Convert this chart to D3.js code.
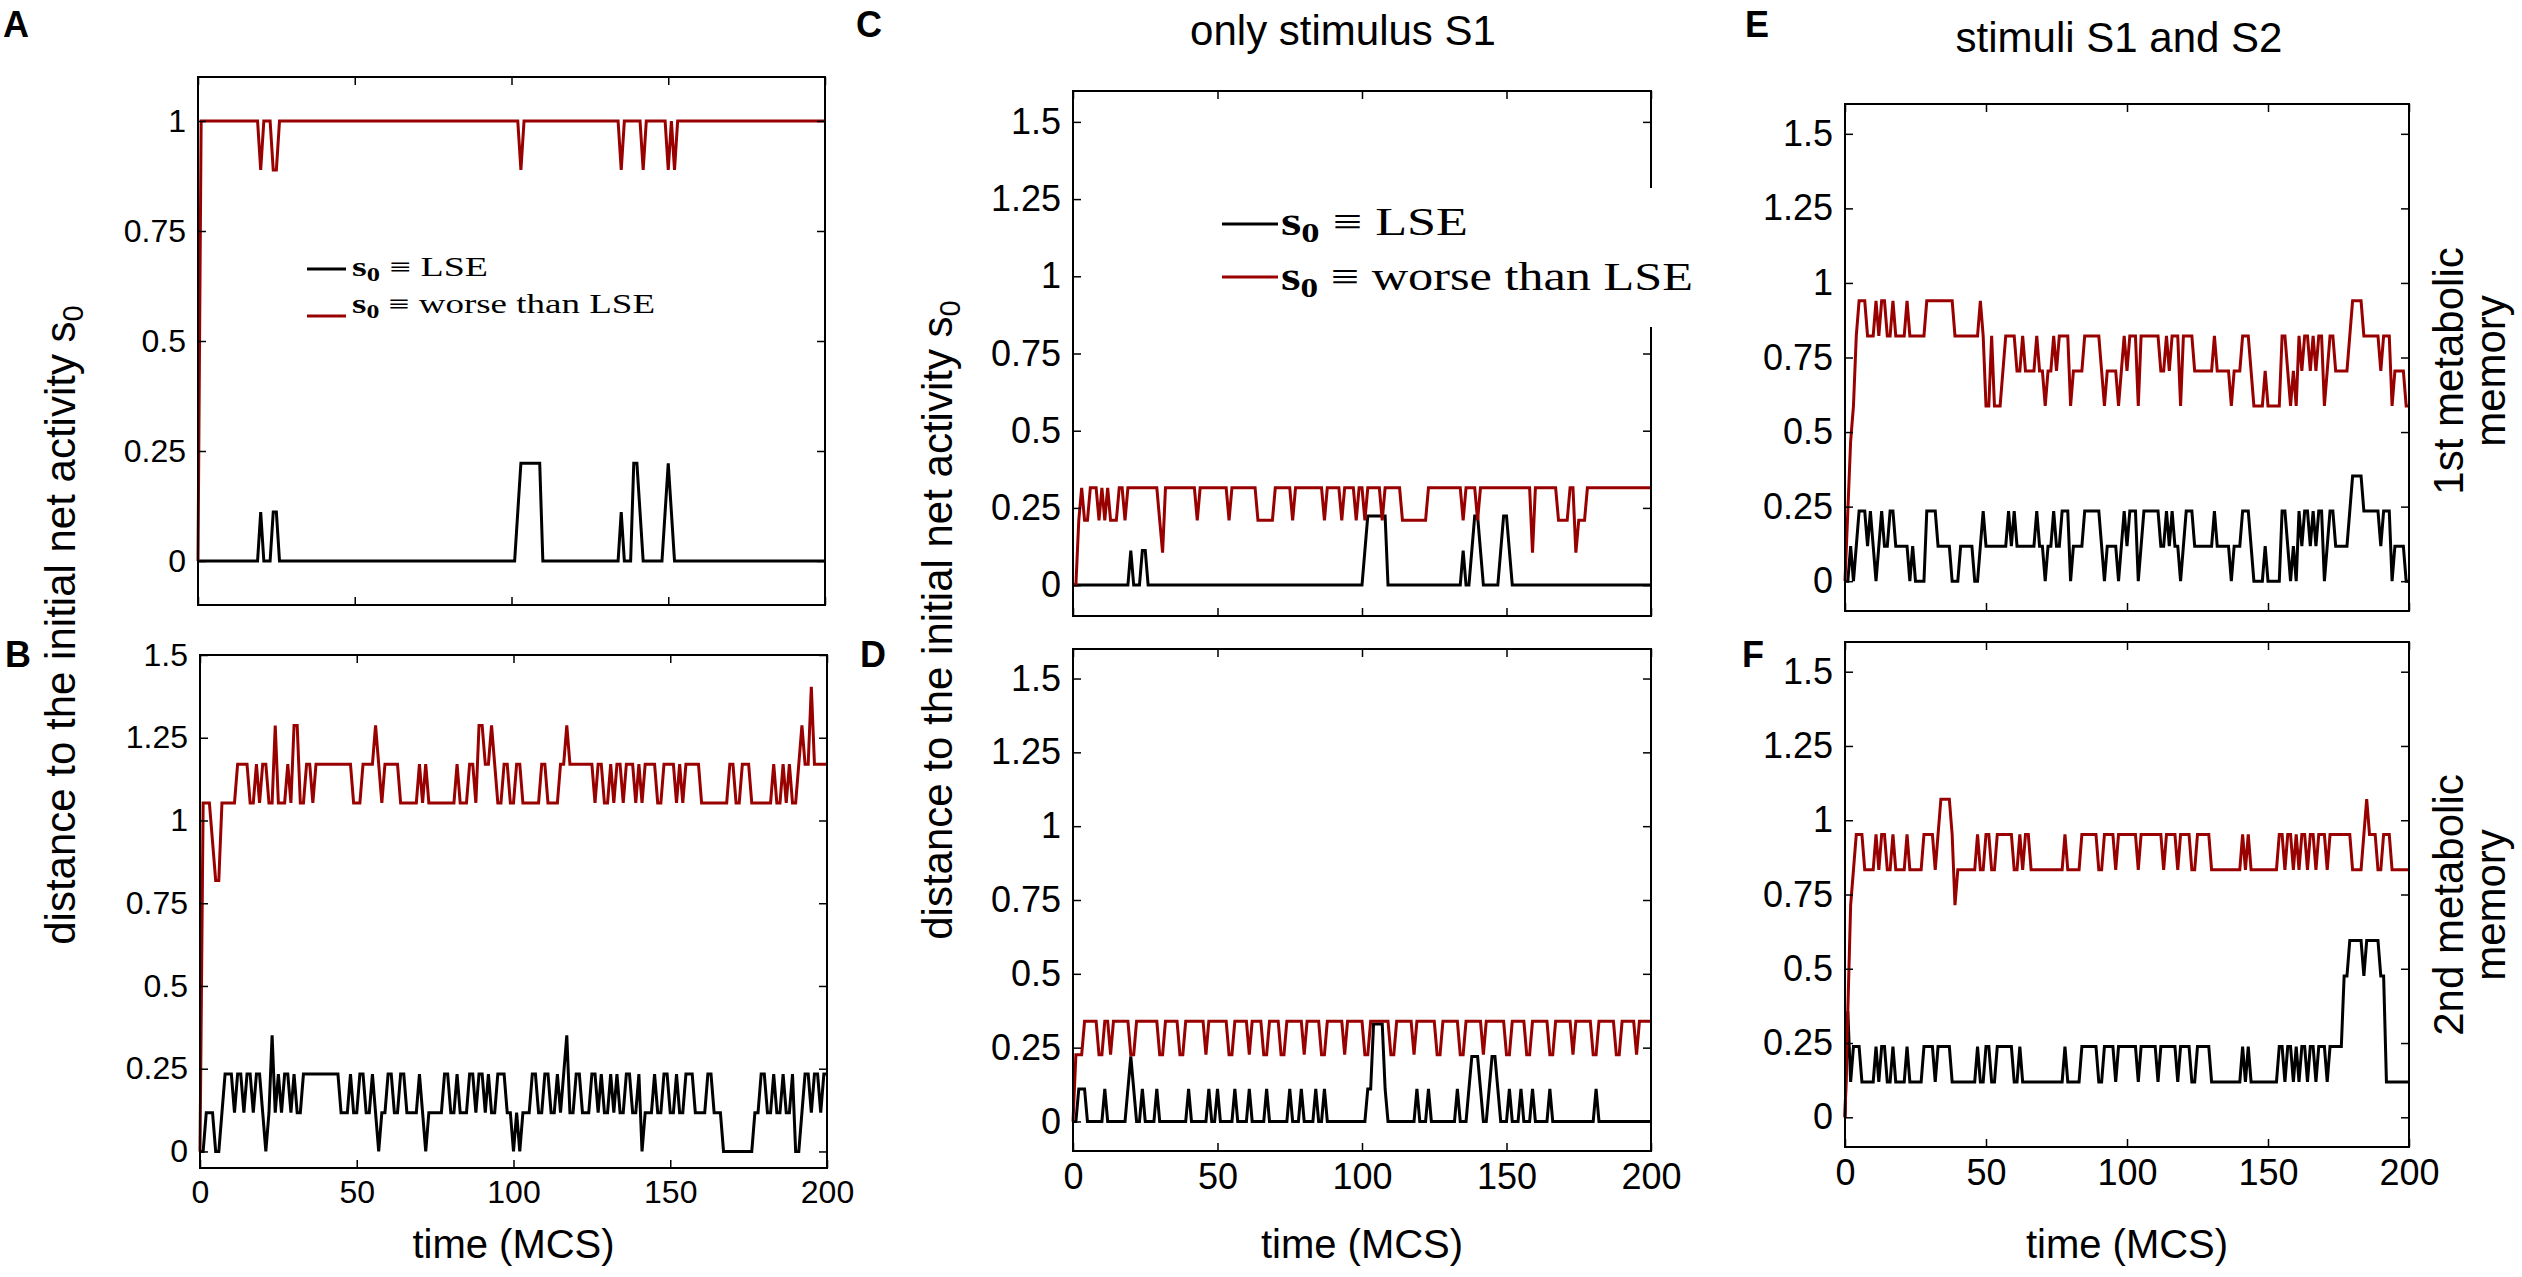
<!DOCTYPE html>
<html>
<head>
<meta charset="utf-8">
<script src="https://cdn.jsdelivr.net/npm/d3@7"></script>
<style>
  body { margin: 0; background: #fff; }
  text { fill: #000; }
</style>
</head>
<body>
<svg id="fig" width="2522" height="1277" font-family="Liberation Sans, Arial, sans-serif"></svg>
<script>
// ---- data: each series is a list of [time (MCS), level] changes; level * unit = distance
const xTicks = [0, 50, 100, 150, 200]
const yTicksA = [0, 0.25, 0.5, 0.75, 1]
const yTicks = [0, 0.25, 0.5, 0.75, 1, 1.25, 1.5]

const unitA = 1 / 9
const aBlack = [[0,0],[20,1],[21,0],[24,1],[26,0],[102,1],[103,2],[110,0],[135,1],[136,0],[139,2],[141,1],[142,0],[149,1],[150,2],[151,1],[152,0]]
const aRed = [[0,0],[1,9],[20,8],[21,9],[24,8],[26,9],[103,8],[104,9],[135,8],[136,9],[142,8],[143,9],[150,8],[151,9],[152,8],[153,9]]

const unitB = 0.117
const bBlack = [[0,0],[2,1],[5,0],[7,1],[8,2],[11,1],[12,2],[14,1],[15,2],[17,1],[18,2],[20,1],[21,0],[22,1],[23,3],[24,1],[25,2],[26,1],[27,2],[29,1],[30,2],[31,1],[33,2],[45,1],[48,2],[49,1],[51,2],[53,1],[55,2],[56,1],[57,0],[58,1],[60,2],[62,1],[64,2],[66,1],[70,2],[71,1],[72,0],[73,1],[78,2],[80,1],[82,2],[83,1],[86,2],[88,1],[89,2],[91,1],[92,2],[93,1],[95,2],[98,1],[100,0],[101,1],[102,0],[103,1],[106,2],[108,1],[110,2],[112,1],[114,2],[115,1],[116,2],[117,3],[118,1],[120,2],[122,1],[125,2],[127,1],[128,2],[129,1],[131,2],[132,1],[133,2],[134,1],[136,2],[138,1],[140,2],[141,0],[142,1],[145,2],[146,1],[148,2],[150,1],[152,2],[153,1],[155,2],[158,1],[162,2],[164,1],[167,0],[177,1],[179,2],[181,1],[183,2],[184,1],[186,2],[187,1],[189,2],[190,0],[192,1],[193,2],[195,1],[196,2],[198,1],[199,2]]
const bRed = [[0,0],[1,9],[4,8],[5,7],[7,9],[12,10],[16,9],[18,10],[19,9],[20,10],[22,9],[24,11],[25,9],[28,10],[29,9],[30,11],[32,9],[34,10],[36,9],[37,10],[49,9],[52,10],[56,11],[57,10],[58,9],[59,10],[64,9],[70,10],[71,9],[72,10],[73,9],[82,10],[83,9],[86,10],[88,9],[89,11],[91,10],[93,11],[94,10],[95,9],[97,10],[99,9],[101,10],[103,9],[109,10],[111,9],[115,10],[117,11],[118,10],[126,9],[127,10],[129,9],[131,10],[132,9],[133,10],[135,9],[136,10],[139,9],[140,10],[141,9],[142,10],[146,9],[148,10],[152,9],[153,10],[154,9],[155,10],[160,9],[169,10],[171,9],[173,10],[176,9],[183,10],[184,9],[186,10],[187,9],[188,10],[189,9],[191,10],[192,11],[193,10],[195,12],[196,10]]

const unitCb = 0.112
const unitCr = 0.105
const cBlack = [[0,0],[20,1],[21,0],[24,1],[26,0],[101,1],[102,2],[109,0],[135,1],[136,0],[138,1],[139,2],[141,1],[142,0],[148,1],[149,2],[151,1],[152,0]]
const cRed = [[0,0],[2,2],[3,3],[4,2],[6,3],[9,2],[10,3],[11,2],[12,3],[13,2],[16,3],[18,2],[19,3],[30,2],[31,1],[32,3],[43,2],[44,3],[54,2],[55,3],[64,2],[70,3],[76,2],[77,3],[87,2],[88,3],[93,2],[94,3],[98,2],[99,3],[101,2],[102,3],[107,2],[108,3],[114,2],[123,3],[135,2],[136,3],[140,2],[141,3],[159,1],[160,3],[168,2],[172,3],[174,1],[175,2],[178,3]]

const unitDb = 0.11
const unitDr = 0.113
const dBlack = [[0,0],[2,1],[5,0],[11,1],[12,0],[19,1],[20,2],[21,1],[22,0],[24,1],[25,0],[29,1],[30,0],[40,1],[41,0],[47,1],[48,0],[50,1],[51,0],[56,1],[57,0],[61,1],[62,0],[67,1],[68,0],[75,1],[76,0],[79,1],[80,0],[84,1],[85,0],[87,1],[88,0],[102,1],[104,3],[108,1],[109,0],[119,1],[120,0],[123,1],[124,0],[133,1],[134,0],[137,1],[138,2],[141,1],[142,0],[144,1],[145,2],[147,1],[148,0],[151,1],[152,0],[155,1],[156,0],[159,1],[160,0],[165,1],[166,0],[181,1],[182,0]]
const dRed = [[0,0],[1,2],[4,3],[9,2],[11,3],[13,2],[14,3],[20,2],[22,3],[30,2],[32,3],[37,2],[39,3],[46,2],[47,3],[54,2],[56,3],[61,2],[62,3],[66,2],[68,3],[72,2],[74,3],[80,2],[81,3],[86,2],[88,3],[94,2],[95,3],[101,2],[103,3],[110,2],[112,3],[118,2],[119,3],[126,2],[128,3],[134,2],[136,3],[142,2],[143,3],[150,2],[152,3],[157,2],[159,3],[165,2],[167,3],[173,2],[174,3],[180,2],[182,3],[188,2],[190,3],[195,2],[196,3]]

const unitE = 0.1175
const eBlack = [[0,0],[2,1],[3,0],[4,1],[5,2],[8,1],[9,2],[10,1],[11,0],[12,1],[13,2],[14,1],[16,2],[18,1],[23,0],[24,1],[25,0],[29,2],[33,1],[38,0],[41,1],[46,0],[48,1],[49,2],[50,1],[58,2],[59,1],[60,2],[61,1],[68,2],[69,1],[71,0],[72,1],[74,2],[75,1],[77,2],[80,0],[81,1],[85,2],[91,1],[92,0],[93,1],[97,0],[98,1],[99,2],[100,1],[101,2],[104,0],[105,1],[106,2],[112,1],[114,2],[115,1],[116,2],[117,1],[119,0],[120,1],[121,2],[124,1],[131,2],[132,1],[137,0],[138,1],[141,2],[144,1],[145,0],[149,1],[150,0],[155,2],[157,1],[158,0],[159,1],[160,0],[161,2],[162,1],[163,2],[165,1],[166,2],[167,1],[168,2],[170,0],[171,1],[172,2],[174,1],[179,2],[180,3],[184,2],[190,1],[191,2],[194,0],[195,1],[199,0]]
const eRed = [[0,0],[1,2],[2,4],[3,5],[4,7],[5,8],[8,7],[11,8],[12,7],[13,8],[15,7],[17,8],[18,7],[22,8],[23,7],[29,8],[39,7],[48,8],[49,7],[50,5],[52,7],[53,5],[56,6],[57,7],[61,6],[63,7],[64,6],[68,7],[69,6],[71,5],[72,6],[74,7],[75,6],[76,7],[80,5],[81,6],[85,7],[91,6],[92,5],[93,6],[97,5],[98,6],[99,7],[100,6],[101,7],[104,5],[105,7],[112,6],[114,7],[115,6],[116,7],[119,5],[120,7],[124,6],[131,7],[132,6],[137,5],[138,6],[141,7],[144,6],[145,5],[149,6],[150,5],[155,7],[157,6],[158,5],[159,6],[160,5],[161,7],[162,6],[163,7],[165,6],[166,7],[167,6],[168,7],[170,5],[171,6],[172,7],[174,6],[179,7],[180,8],[184,7],[190,6],[191,7],[194,5],[195,6],[199,5]]

const unitF = 0.119
const fBlack = [[0,0],[1,3],[2,1],[3,2],[6,1],[11,2],[12,1],[13,2],[15,1],[17,2],[18,1],[22,2],[23,1],[28,2],[32,1],[33,2],[38,1],[47,2],[48,1],[50,2],[52,1],[54,2],[60,1],[62,2],[63,1],[78,2],[79,1],[84,2],[90,1],[92,2],[96,1],[97,2],[104,1],[105,2],[111,1],[112,2],[118,1],[119,2],[123,1],[125,2],[130,1],[141,2],[142,1],[143,2],[144,1],[154,2],[156,1],[157,2],[159,1],[160,2],[161,1],[162,2],[164,1],[165,2],[167,1],[168,2],[171,1],[172,2],[175,2],[177,4],[179,5],[184,4],[185,5],[190,4],[192,1]]
const fRed = [[0,0],[1,3],[2,6],[3,7],[4,8],[7,7],[11,8],[12,7],[13,8],[15,7],[17,8],[18,7],[22,8],[23,7],[28,8],[32,7],[33,8],[34,9],[38,8],[39,6],[40,7],[47,8],[48,7],[50,8],[52,7],[54,8],[60,7],[62,8],[63,7],[64,8],[66,7],[78,8],[79,7],[84,8],[90,7],[92,8],[96,7],[97,8],[104,7],[105,8],[113,7],[114,8],[118,7],[119,8],[123,7],[125,8],[130,7],[141,8],[142,7],[143,8],[144,7],[154,8],[156,7],[157,8],[159,7],[160,8],[161,7],[162,8],[164,7],[165,8],[167,7],[168,8],[171,7],[172,8],[180,7],[184,8],[185,9],[186,8],[189,7],[191,8],[194,7]]

// ---- layout
const RED = "#990000"
const SANS = "Liberation Sans, Arial, sans-serif"
const SERIF = "Liberation Serif, Times New Roman, serif"
const panels = [
  { x: [198, 825], y: [605, 77], dom: [-0.1, 1.1], yt: yTicksA, fs: 32, xLab: false, black: [aBlack, unitA], red: [aRed, unitA] },
  { x: [200, 827], y: [1168, 655], dom: [-0.05, 1.5], yt: yTicks, fs: 32, xLab: true, black: [bBlack, unitB], red: [bRed, unitB] },
  { x: [1073, 1651], y: [616, 91], dom: [-0.1, 1.6], yt: yTicks, fs: 36, xLab: false, black: [cBlack, unitCb], red: [cRed, unitCr] },
  { x: [1073, 1651], y: [1151, 649], dom: [-0.1, 1.6], yt: yTicks, fs: 36, xLab: true, black: [dBlack, unitDb], red: [dRed, unitDr] },
  { x: [1845, 2409], y: [611, 104], dom: [-0.1, 1.6], yt: yTicks, fs: 36, xLab: false, black: [eBlack, unitE], red: [eRed, unitE] },
  { x: [1845, 2409], y: [1147, 642], dom: [-0.1, 1.6], yt: yTicks, fs: 36, xLab: true, black: [fBlack, unitF], red: [fRed, unitF] }
]

// expand the change list into one sample per MCS
function expand(runs, unit) {
  let k = 0
  return d3.range(0, 201).map(t => {
    while (k + 1 < runs.length && runs[k + 1][0] <= t) k++
    return { t: t, v: runs[k][1] * unit }
  })
}

const svg = d3.select("#fig")

panels.forEach(p => {
  const x = d3.scaleLinear().domain([0, 200]).range(p.x)
  const y = d3.scaleLinear().domain(p.dom).range(p.y)
  const g = svg.append("g")

  const line = d3.line().x(d => x(d.t)).y(d => y(d.v))
  g.append("path")
    .datum(expand(p.black[0], p.black[1]))
    .attr("d", line)
    .attr("fill", "none")
    .attr("stroke", "#000")
    .attr("stroke-width", 3)
  g.append("path")
    .datum(expand(p.red[0], p.red[1]))
    .attr("d", line)
    .attr("fill", "none")
    .attr("stroke", RED)
    .attr("stroke-width", 3)

  // MATLAB style ticks pointing inward on all four sides
  const style = a => {
    a.attr("font-family", SANS).attr("font-size", p.fs)
    a.select(".domain").remove()
    a.selectAll(".tick line").attr("stroke", "#000").attr("stroke-width", 1.5)
    a.selectAll("text").attr("fill", "#000")
  }
  g.append("g")
    .attr("transform", `translate(0,${p.y[0]})`)
    .call(d3.axisBottom(x).tickValues(xTicks).tickSize(-8).tickPadding(12)
      .tickFormat(p.xLab ? d3.format("d") : ""))
    .call(style)
  g.append("g")
    .attr("transform", `translate(0,${p.y[1]})`)
    .call(d3.axisTop(x).tickValues(xTicks).tickSize(-8).tickFormat(""))
    .call(style)
  g.append("g")
    .attr("transform", `translate(${p.x[0]},0)`)
    .call(d3.axisLeft(y).tickValues(p.yt).tickSize(-8).tickPadding(12).tickFormat(d => String(d)))
    .call(style)
  g.append("g")
    .attr("transform", `translate(${p.x[1]},0)`)
    .call(d3.axisRight(y).tickValues(p.yt).tickSize(-8).tickFormat(""))
    .call(style)

  g.append("rect")
    .attr("x", p.x[0]).attr("y", p.y[1])
    .attr("width", p.x[1] - p.x[0]).attr("height", p.y[0] - p.y[1])
    .attr("fill", "none").attr("stroke", "#000").attr("stroke-width", 2)

  if (p.xLab) {
    svg.append("text")
      .attr("x", (p.x[0] + p.x[1]) / 2).attr("y", 1258)
      .attr("text-anchor", "middle").attr("font-size", 40)
      .text("time (MCS)")
  }
})

// ---- legends
function legend(x, y1, y2, lx, ly1, ly2, fs, len1, len2) {
  const g = svg.append("g").attr("font-family", SERIF)
  const rows = [["LSE", y1, ly1, "#000", len1], ["worse than LSE", y2, ly2, RED, len2]]
  rows.forEach(([label, ty, lineY, colour, len]) => {
    g.append("line")
      .attr("x1", lx[0]).attr("x2", lx[1]).attr("y1", lineY).attr("y2", lineY)
      .attr("stroke", colour).attr("stroke-width", 3)
    const t = g.append("text")
      .attr("x", x).attr("y", ty)
      .style("font-family", SERIF)
      .attr("font-size", fs)
      .attr("textLength", len).attr("lengthAdjust", "spacingAndGlyphs")
    t.append("tspan").attr("font-weight", "bold").text("s")
    t.append("tspan").attr("font-weight", "bold").attr("font-size", fs * 0.7).attr("dy", fs * 0.18).text("0")
    t.append("tspan").attr("dy", -fs * 0.18).text(" \u2261 " + label)
  })
  return g
}
legend(352, 276, 313, [307, 346], 269, 316, 27, 136, 303)
svg.append("rect").attr("x", 1212).attr("y", 188).attr("width", 490).attr("height", 139).attr("fill", "#fff")
legend(1281, 235, 290, [1222, 1278], 224, 277, 40, 187, 412)

// ---- titles, panel letters, axis titles
svg.append("text").attr("x", 1343).attr("y", 45).attr("text-anchor", "middle").attr("font-size", 42).text("only stimulus S1")
svg.append("text").attr("x", 2119).attr("y", 52).attr("text-anchor", "middle").attr("font-size", 42).text("stimuli S1 and S2")

const letters = [["A", 3, 37], ["B", 5, 667], ["C", 856, 37], ["D", 860, 667], ["E", 1745, 37], ["F", 1742, 667]]
letters.forEach(([s, lx, ly]) => {
  svg.append("text").attr("x", lx).attr("y", ly).attr("font-size", 36).attr("font-weight", "bold").text(s)
})

;[[75, 625], [952, 620]].forEach(([lx, ly]) => {
  const t = svg.append("text")
    .attr("transform", `translate(${lx},${ly}) rotate(-90)`)
    .attr("text-anchor", "middle").attr("font-size", 42)
  t.append("tspan").text("distance to the initial net activity s")
  t.append("tspan").attr("font-size", 29).attr("dy", 8).text("0")
})

;[[371, "1st metabolic"], [905, "2nd metabolic"]].forEach(([cy, first]) => {
  const t = svg.append("text")
    .attr("transform", `translate(2463,${cy}) rotate(-90)`)
    .attr("text-anchor", "middle").attr("font-size", 42)
  t.append("tspan").attr("x", 0).attr("dy", 0).text(first)
  t.append("tspan").attr("x", 0).attr("dy", 42).text("memory")
})
</script>
</body>
</html>
